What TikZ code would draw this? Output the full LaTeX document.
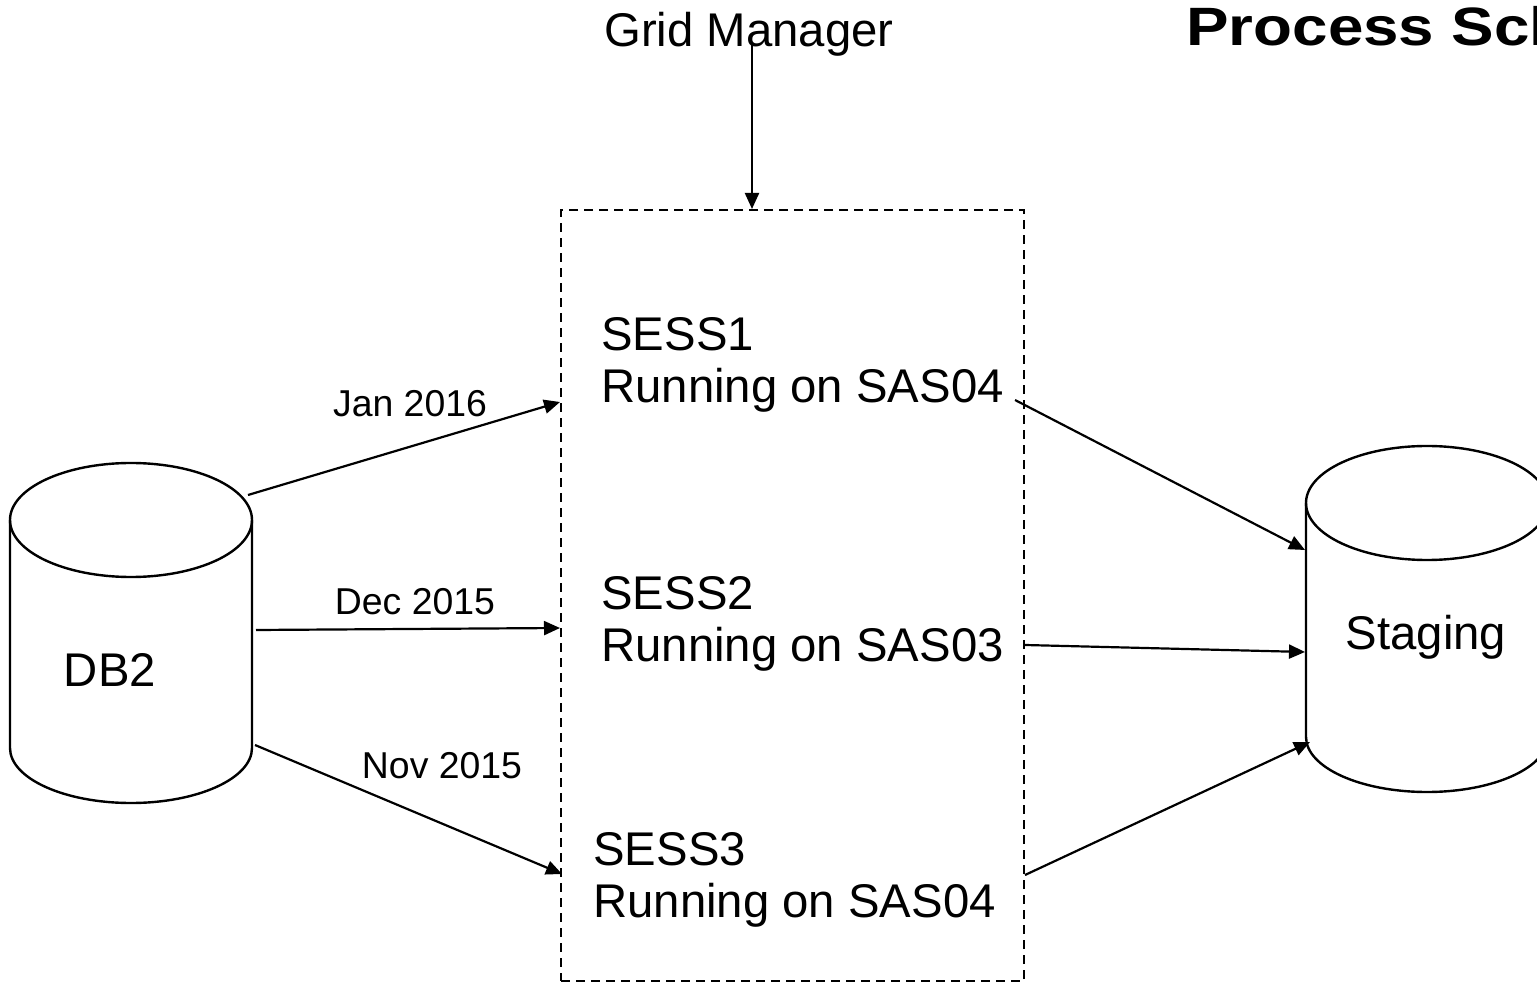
\documentclass[tikz,border=0pt]{standalone}
\usepackage{fontspec}
\setmainfont{Liberation Sans}
\usetikzlibrary{arrows.meta}
\tikzset{
  bigtxt/.style={font=\fontsize{23.65}{26}\selectfont, inner sep=0pt},
  smalltxt/.style={font=\fontsize{18.7}{21}\selectfont, inner sep=0pt},
  titletxt/.style={font=\fontsize{27}{30}\selectfont\bfseries, inner sep=0pt},
  sesstxt/.style={bigtxt, align=left, anchor=north west},
  cyl/.style={draw=black, line width=1.2pt},
  arr/.style={draw=black, line width=1.1pt, -{Triangle[length=8pt,width=7pt]}},
  sessbox/.style={draw=black, line width=1.2pt, dash pattern=on 4.5pt off 3pt, inner sep=0pt, anchor=north west}
}
\begin{document}
\begin{tikzpicture}[x=0.5pt,y=-0.5pt]
\clip (0,0) rectangle (1537,983);
\fill[white] (0,0) rectangle (1537,983);

% title and grid manager
\node[titletxt, anchor=base west] (title) at (1186,46) {\scalebox{1.18}[1]{Process Sch}};
\node[bigtxt, anchor=base] (gm) at (749,47) {Grid Manager};
\coordinate (gmstart) at (752,42);

% dashed session box
\node[sessbox, minimum width=231.5pt, minimum height=385.5pt] (box) at (560,209) {};

% DB2 cylinder
\draw[cyl] (131,520) ellipse[x radius=60.5pt, y radius=28.5pt];
\draw[cyl] (10,520) -- (10,748) arc[start angle=180, end angle=360, x radius=60.5pt, y radius=27.5pt] -- (252,520);
\node[bigtxt, anchor=base] (db2) at (110,687) {DB2};

% Staging cylinder
\draw[cyl] (1427,503) ellipse[x radius=60.5pt, y radius=28.5pt];
\draw[cyl] (1306,503) -- (1306,737) arc[start angle=180, end angle=360, x radius=60.5pt, y radius=27.5pt] -- (1548,503);
\node[bigtxt, anchor=base] (stg) at (1426,650) {Staging};

% sessions
\node[sesstxt] (s1) at (601,317) {SESS1\\Running on SAS04};
\node[sesstxt] (s2) at (601,576) {SESS2\\Running on SAS03};
\node[sesstxt] (s3) at (593,832) {SESS3\\Running on SAS04};

% labels
\node[smalltxt, anchor=base] (jan) at (410,417) {Jan 2016};
\node[smalltxt, anchor=base] (dec) at (415,615) {Dec 2015};
\node[smalltxt, anchor=base] (nov) at (442,778) {Nov 2015};

% connector end points
\coordinate (db2a) at (248,495);
\coordinate (db2b) at (256,630);
\coordinate (db2c) at (255,745);
\coordinate (boxa) at (560,402);
\coordinate (boxb) at (560,628);
\coordinate (boxc) at (562,874);
\coordinate (s1out) at (1015,400);
\coordinate (s2out) at (1025,645);
\coordinate (s3out) at (1025,875);
\coordinate (stga) at (1305,550);
\coordinate (stgb) at (1305,652);
\coordinate (stgc) at (1310,742);

% connectors
\draw[arr] (gmstart) -- (gmstart |- box.north);
\draw[arr] (db2a) -- (boxa);
\draw[arr] (db2b) -- (boxb);
\draw[arr] (db2c) -- (boxc);
\draw[arr] (s1out) -- (stga);
\draw[arr] (s2out) -- (stgb);
\draw[arr] (s3out) -- (stgc);
\end{tikzpicture}
\end{document}
